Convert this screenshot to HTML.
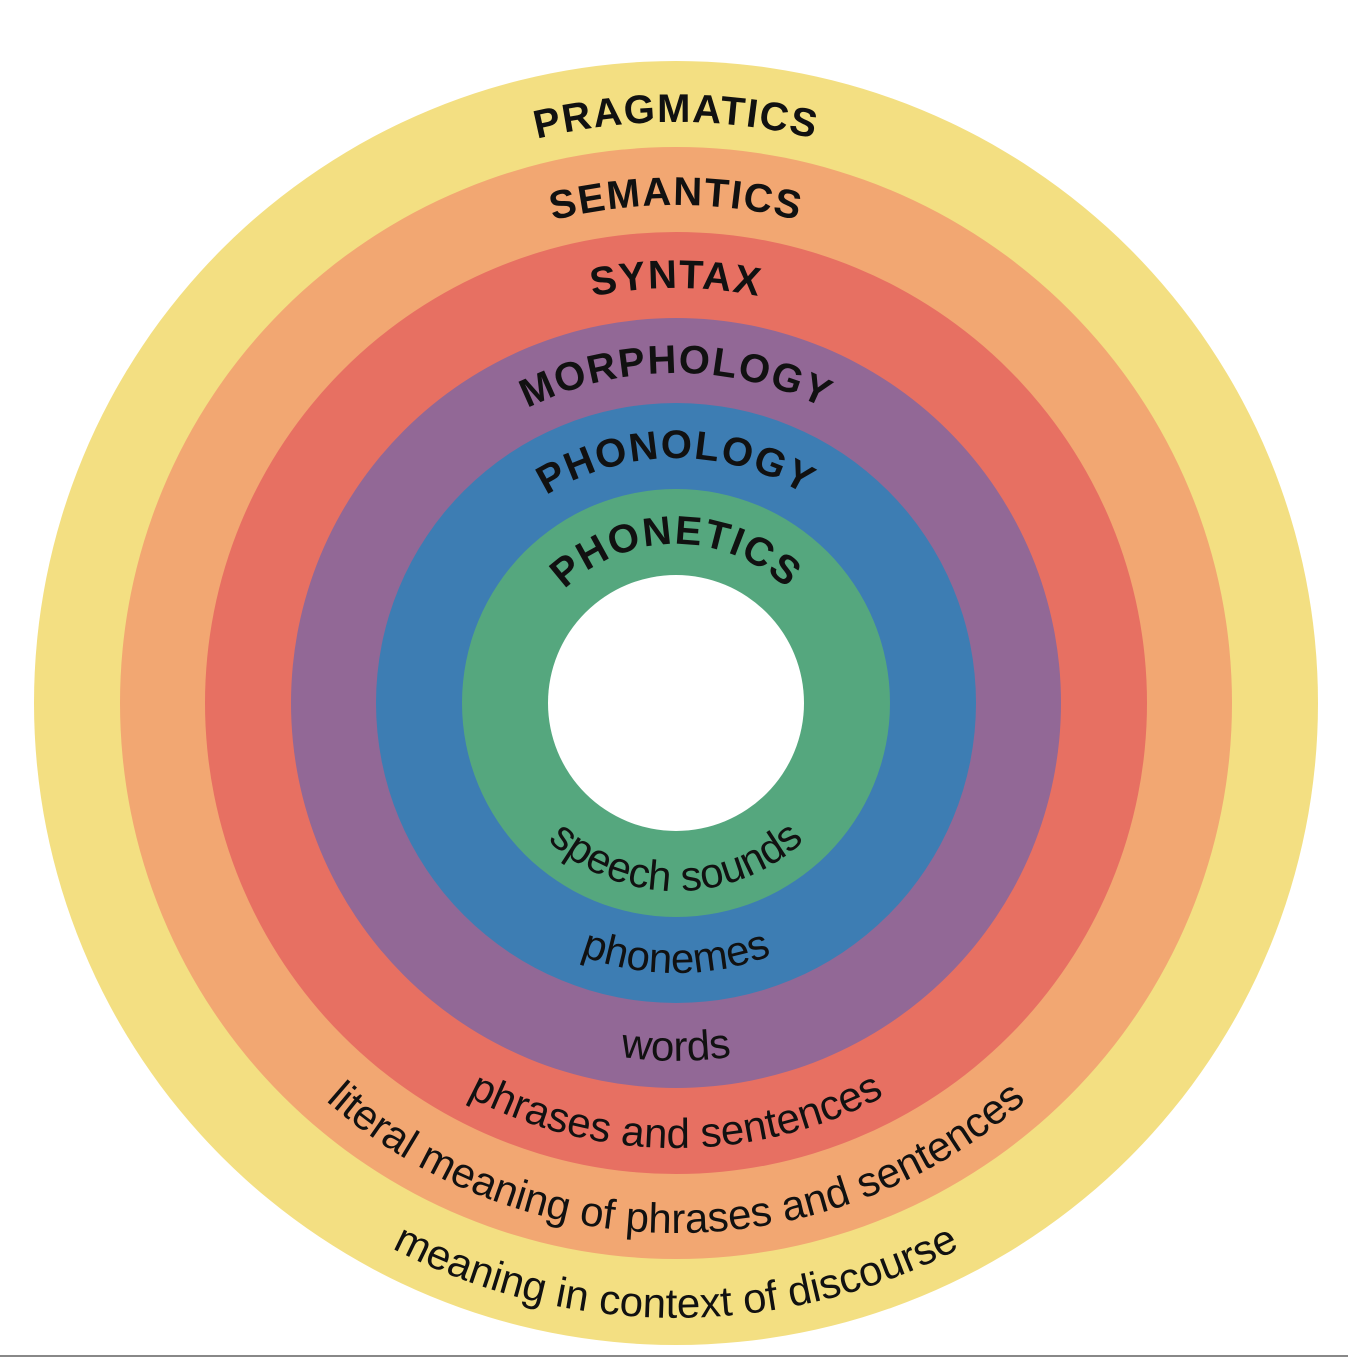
<!DOCTYPE html>
<html><head><meta charset="utf-8"><style>html,body{margin:0;padding:0;background:#fff}svg{display:block}</style></head>
<body>
<svg width="1348" height="1358" viewBox="0 0 1348 1358" xmlns="http://www.w3.org/2000/svg">
<defs>
<path id="t1" d="M95,703 A581,581 0 0 1 1257,703"/>
<path id="t2" d="M178,703 A498,498 0 0 1 1174,703"/>
<path id="t3" d="M261,703 A415,415 0 0 1 1091,703"/>
<path id="t4" d="M346,703 A330,330 0 0 1 1006,703"/>
<path id="t5" d="M431,703 A245,245 0 0 1 921,703"/>
<path id="t6" d="M517,703 A159,159 0 0 1 835,703"/>
<path id="b1" d="M488,703 A188,188 0 0 0 864,703"/>
<path id="b2" d="M406,703 A270,270 0 0 0 946,703"/>
<path id="b3" d="M318,703 A358,358 0 0 0 1034,703"/>
<path id="b4" d="M231,703 A445,445 0 0 0 1121,703"/>
<path id="b5" d="M146,703 A530,530 0 0 0 1206,703"/>
<path id="b6" d="M61,703 A615,615 0 0 0 1291,703"/>
</defs>
<circle cx="676" cy="703" r="642" fill="#F3DF82"/>
<circle cx="676" cy="703" r="556" fill="#F2A772"/>
<circle cx="676" cy="703" r="471" fill="#E77062"/>
<circle cx="676" cy="703" r="385" fill="#926896"/>
<circle cx="676" cy="703" r="300" fill="#3D7DB3"/>
<circle cx="676" cy="703" r="214" fill="#55A77E"/>
<circle cx="676" cy="703" r="128" fill="#fff"/>
<line x1="0" y1="1356" x2="1348" y2="1356" stroke="#888" stroke-width="2"/>
<g font-family="Liberation Sans, sans-serif" font-weight="bold" font-size="40" fill="#111" text-anchor="middle" letter-spacing="1.5">
<text><textPath href="#t1" startOffset="50%">PRAGMATICS</textPath></text>
<text><textPath href="#t2" startOffset="50%">SEMANTICS</textPath></text>
<text><textPath href="#t3" startOffset="50%">SYNTAX</textPath></text>
<text><textPath href="#t4" startOffset="50%">MORPHOLOGY</textPath></text>
<text><textPath href="#t5" startOffset="50%">PHONOLOGY</textPath></text>
<text><textPath href="#t6" startOffset="50%">PHONETICS</textPath></text>
</g>
<g font-family="Liberation Sans, sans-serif" font-size="42" fill="#111" text-anchor="middle">
<text><textPath href="#b1" startOffset="50%">speech sounds</textPath></text>
<text><textPath href="#b2" startOffset="50%">phonemes</textPath></text>
<text><textPath href="#b3" startOffset="50%">words</textPath></text>
<text><textPath href="#b4" startOffset="50%">phrases and sentences</textPath></text>
<text><textPath href="#b5" startOffset="50%">literal meaning of phrases and sentences</textPath></text>
<text><textPath href="#b6" startOffset="50%">meaning in context of discourse</textPath></text>
</g>
</svg>
</body></html>
